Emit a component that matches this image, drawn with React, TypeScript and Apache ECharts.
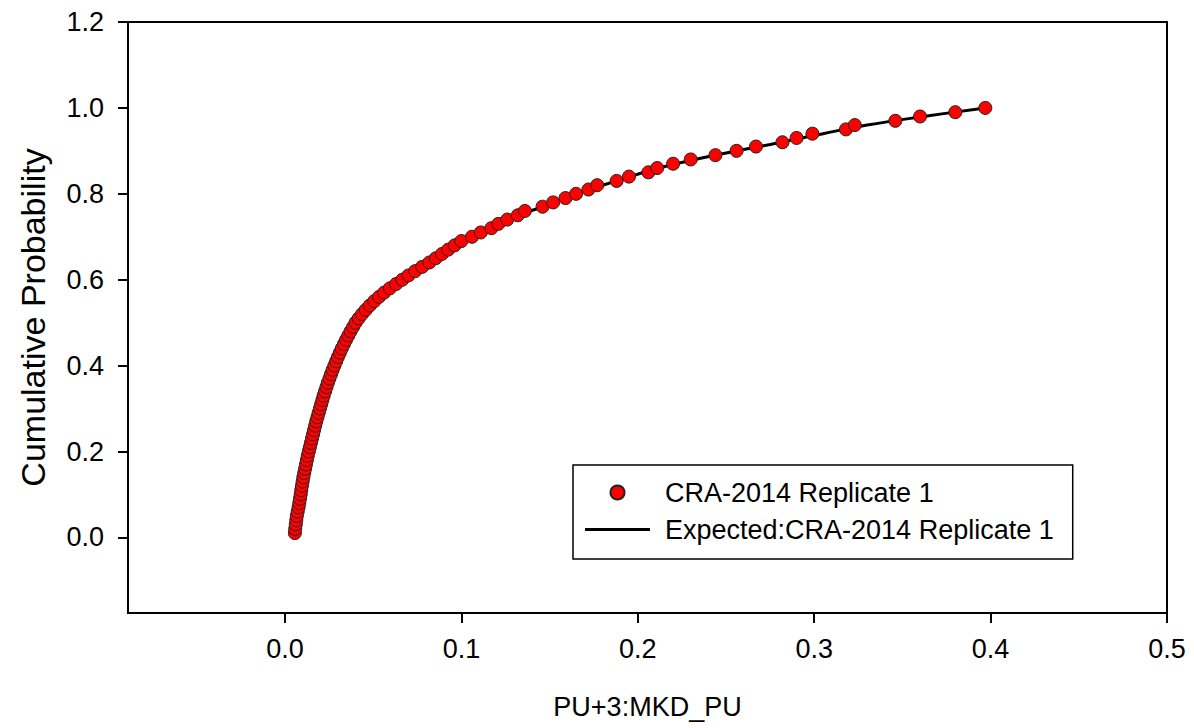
import React, { useEffect, useRef } from "react";
import * as echarts from "echarts";

// Observed points: cumulative probability and value
const obsProb: number[] = [
  0.01, 0.02, 0.03, 0.04, 0.05, 0.06, 0.07, 0.08, 0.09, 0.10,
  0.11, 0.12, 0.13, 0.14, 0.15, 0.16, 0.17, 0.18, 0.19, 0.20,
  0.21, 0.22, 0.23, 0.24, 0.25, 0.26, 0.27, 0.28, 0.29, 0.30,
  0.31, 0.32, 0.33, 0.34, 0.35, 0.36, 0.37, 0.38, 0.39, 0.40,
  0.41, 0.42, 0.43, 0.44, 0.45, 0.46, 0.47, 0.48, 0.49, 0.50,
  0.51, 0.52, 0.53, 0.54, 0.55, 0.56, 0.57, 0.58, 0.59, 0.60,
  0.61, 0.62, 0.63, 0.64, 0.65, 0.66, 0.67, 0.68, 0.69, 0.70,
  0.71, 0.72, 0.73, 0.74, 0.75, 0.76, 0.77, 0.78, 0.79, 0.80,
  0.81, 0.82, 0.83, 0.84, 0.85, 0.86, 0.87, 0.88, 0.89, 0.90,
  0.91, 0.92, 0.93, 0.94, 0.95, 0.96, 0.97, 0.98, 0.99, 1.00,
];
const obsValue: number[] = [
  0.0056, 0.0058, 0.0061, 0.0064, 0.0067, 0.0072, 0.0077, 0.0081, 0.0085, 0.0089,
  0.0092, 0.0096, 0.0100, 0.0104, 0.0109, 0.0114, 0.0119, 0.0124, 0.0129, 0.0135,
  0.0141, 0.0147, 0.0153, 0.0159, 0.0165, 0.0171, 0.0177, 0.0184, 0.0191, 0.0198,
  0.0205, 0.0212, 0.0219, 0.0227, 0.0235, 0.0243, 0.0252, 0.0261, 0.0270, 0.0280,
  0.0290, 0.0300, 0.0311, 0.0322, 0.0334, 0.0346, 0.0359, 0.0372, 0.0386, 0.0400,
  0.0418, 0.0437, 0.0458, 0.0481, 0.0506, 0.0533, 0.0562, 0.0595, 0.0630, 0.0665,
  0.0700, 0.0738, 0.0778, 0.0818, 0.0855, 0.0890, 0.0925, 0.0962, 0.1000, 0.1060,
  0.1110, 0.1170, 0.1210, 0.1260, 0.1320, 0.1360, 0.1460, 0.1520, 0.1590, 0.1650,
  0.1720, 0.1770, 0.1880, 0.1950, 0.2060, 0.2110, 0.2200, 0.2300, 0.2440, 0.2560,
  0.2670, 0.2820, 0.2900, 0.2990, 0.3180, 0.3230, 0.3460, 0.3600, 0.3800, 0.3970,
];

// Expected (fitted) curve
const expValue: number[] = [
  0.0052, 0.0065, 0.0090, 0.0125, 0.0165, 0.0210, 0.0270, 0.0340, 0.0400, 0.0490,
  0.0595, 0.0700, 0.0818, 0.0925, 0.1060, 0.1190, 0.1320, 0.1500, 0.1650, 0.1880,
  0.2120, 0.2440, 0.2750, 0.3050, 0.3300, 0.3620, 0.3970,
];
const expProb: number[] = [
  0.005, 0.05, 0.10, 0.18, 0.25, 0.32, 0.39, 0.45, 0.50, 0.545,
  0.58, 0.61, 0.64, 0.67, 0.70, 0.725, 0.75, 0.775, 0.80, 0.83,
  0.86, 0.89, 0.915, 0.94, 0.96, 0.98, 1.00,
];

const xTicks: number[] = [0, 0.1, 0.2, 0.3, 0.4, 0.5];
const yTicks: number[] = [0, 0.2, 0.4, 0.6, 0.8, 1.0, 1.2];

const seriesNames = ["CRA-2014 Replicate 1", "Expected:CRA-2014 Replicate 1"];
const xTitle = "PU+3:MKD_PU";
const yTitle = "Cumulative Probability";

const FONT = "'Liberation Sans', Arial, sans-serif";

export default function App() {
  const ref = useRef<HTMLDivElement>(null);
  useEffect(() => {
    if (!ref.current) return;
    const chart = echarts.init(ref.current, undefined, { renderer: "svg" });
    const axisCommon = {
      axisLine: { show: true, onZero: false, lineStyle: { color: "#000", width: 2 } },
      axisTick: { show: true, inside: false, length: 10, lineStyle: { color: "#000", width: 2 } },
      splitLine: { show: false },
    };
    chart.setOption({
      animation: false,
      backgroundColor: "#fff",
      textStyle: { fontFamily: FONT },
      grid: {
        left: 128,
        right: 27,
        top: 22,
        bottom: 115,
        show: true,
        borderColor: "#000",
        borderWidth: 2,
        containLabel: false,
      },
      xAxis: {
        type: "value",
        min: -0.089,
        max: 0.5,
        name: xTitle,
        nameLocation: "middle",
        nameGap: 80,
        nameTextStyle: { fontSize: 27, color: "#000", fontFamily: FONT },
        ...axisCommon,
        axisTick: { ...axisCommon.axisTick, customValues: xTicks },
        axisLabel: {
          customValues: xTicks,
          fontSize: 27,
          color: "#000",
          fontFamily: FONT,
          margin: 22,
          formatter: (v: number) => v.toFixed(1),
        },
      },
      yAxis: {
        type: "value",
        min: -0.176,
        max: 1.2,
        name: yTitle,
        nameLocation: "middle",
        nameGap: 78,
        nameRotate: 90,
        nameTextStyle: { fontSize: 34, color: "#000", fontFamily: FONT },
        ...axisCommon,
        axisTick: { ...axisCommon.axisTick, customValues: yTicks },
        axisLabel: {
          customValues: yTicks,
          fontSize: 27,
          color: "#000",
          fontFamily: FONT,
          margin: 24,
          formatter: (v: number) => v.toFixed(1),
        },
      },
      legend: {
        orient: "vertical",
        left: 573,
        top: 465,
        padding: [14, 19, 16, 12],
        itemGap: 10,
        itemWidth: 65,
        itemHeight: 14,
        symbolKeepAspect: true,
        borderColor: "#000",
        borderWidth: 1.5,
        backgroundColor: "#fff",
        textStyle: { fontSize: 27, color: "#000", fontFamily: FONT, padding: [0, 0, 0, 10] },
        data: [
          { name: seriesNames[0], icon: "circle" },
          {
            name: seriesNames[1],
            icon: "path://M0,0h65v3.2h-65z",
            itemStyle: { color: "#000", borderWidth: 0 },
          },
        ],
      },
      series: [
        {
          name: seriesNames[1],
          type: "line",
          data: expValue.map((x, i) => [x, expProb[i]]),
          smooth: 0.4,
          symbol: "none",
          lineStyle: { color: "#000", width: 3 },
          itemStyle: { color: "#000" },
          z: 2,
        },
        {
          name: seriesNames[0],
          type: "scatter",
          data: obsValue.map((x, i) => [x, obsProb[i]]),
          symbol: "circle",
          symbolSize: 13,
          itemStyle: { color: "#ff0000", borderColor: "#222", borderWidth: 1, opacity: 1 },
          z: 3,
        },
      ],
    });
    return () => chart.dispose();
  }, []);
  return (
    <div
      ref={ref}
      style={{ position: "fixed", left: 0, top: 0, width: 1194, height: 728, background: "#fff" }}
    />
  );
}
